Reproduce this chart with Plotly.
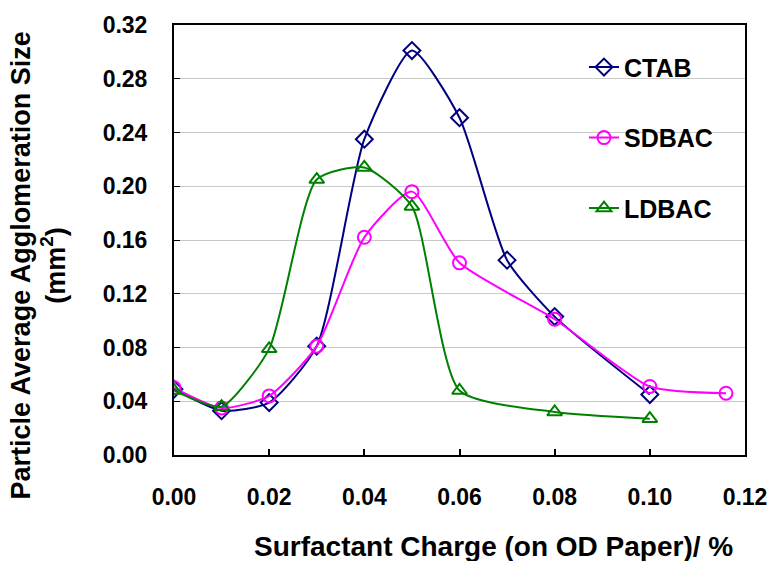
import plotly.graph_objects as go

ctab_x = [0.00, 0.01, 0.02, 0.03, 0.04, 0.05, 0.06, 0.07, 0.08, 0.10]
ctab_y = [0.049, 0.033, 0.039, 0.081, 0.235, 0.301, 0.251, 0.145, 0.103, 0.045]

sdbac_x = [0.00, 0.01, 0.02, 0.03, 0.04, 0.05, 0.06, 0.08, 0.10, 0.116]
sdbac_y = [0.050, 0.035, 0.044, 0.081, 0.162, 0.196, 0.143, 0.101, 0.051, 0.046]

ldbac_x = [0.00, 0.01, 0.02, 0.03, 0.04, 0.05, 0.06, 0.08, 0.10]
ldbac_y = [0.048, 0.036, 0.079, 0.205, 0.214, 0.185, 0.048, 0.032, 0.027]

x_ticks = [0.00, 0.02, 0.04, 0.06, 0.08, 0.10, 0.12]
y_ticks = [0.00, 0.04, 0.08, 0.12, 0.16, 0.20, 0.24, 0.28, 0.32]

FONT = "Liberation Sans, Arial, sans-serif"

fig = go.Figure()
series = [
    ("CTAB", ctab_x, ctab_y, "#000080", "diamond-open"),
    ("SDBAC", sdbac_x, sdbac_y, "#FF00FF", "circle-open"),
    ("LDBAC", ldbac_x, ldbac_y, "#008000", "triangle-up-open"),
]
for name, xs, ys, col, sym in series:
    fig.add_trace(go.Scatter(
        x=xs, y=ys, name=name, legendgroup=name,
        mode="lines+markers",
        line=dict(color=col, width=2, shape="spline", smoothing=0.6),
        marker=dict(symbol=sym, size=13, color=col, line=dict(width=2, color=col)),
    ))

fig.update_layout(
    width=779, height=561,
    margin=dict(l=174, r=25, t=24, b=106),
    paper_bgcolor="white", plot_bgcolor="white",
    font=dict(family=FONT, size=23, color="black"),
    legend=dict(
        x=0.718, y=0.955, xanchor="left", yanchor="top",
        font=dict(family=FONT, size=25, color="black", weight="bold"),
        tracegroupgap=35, bgcolor="rgba(0,0,0,0)",
    ),
    xaxis=dict(
        range=[0, 0.12], tickvals=x_ticks, ticktext=[f"{v:.2f}" for v in x_ticks],
        showline=True, linecolor="black", linewidth=2, mirror=True,
        ticks="inside", ticklen=6, tickwidth=2, tickcolor="black",
        showgrid=False, zeroline=False, ticklabelstandoff=20,
        tickfont=dict(family=FONT, size=23, weight="bold"),
    ),
    yaxis=dict(
        range=[0, 0.32], tickvals=y_ticks, ticktext=[f"{v:.2f}" for v in y_ticks],
        showline=True, linecolor="black", linewidth=2, mirror=True,
        ticks="inside", ticklen=6, tickwidth=1, tickcolor="black",
        showgrid=True, gridcolor="#C8C8C8", gridwidth=1, zeroline=False,
        ticklabelstandoff=20,
        tickfont=dict(family=FONT, size=23, weight="bold"),
    ),
    annotations=[
        dict(text="Surfactant Charge (on OD Paper)/ %", xref="paper", yref="paper",
             x=0.560, y=-0.212, xanchor="center", yanchor="middle", showarrow=False,
             font=dict(family=FONT, size=28, weight="bold")),
        dict(text="Particle Average Agglomeration Size<br>(mm<sup>2</sup>)",
             xref="paper", yref="paper", x=-0.238, y=0.441, textangle=-90,
             xanchor="center", yanchor="middle", showarrow=False,
             font=dict(family=FONT, size=27, weight="bold")),
    ],
)

fig.write_html("out.html", config={"displayModeBar": False},
               post_script="document.body.style.margin='0';")
